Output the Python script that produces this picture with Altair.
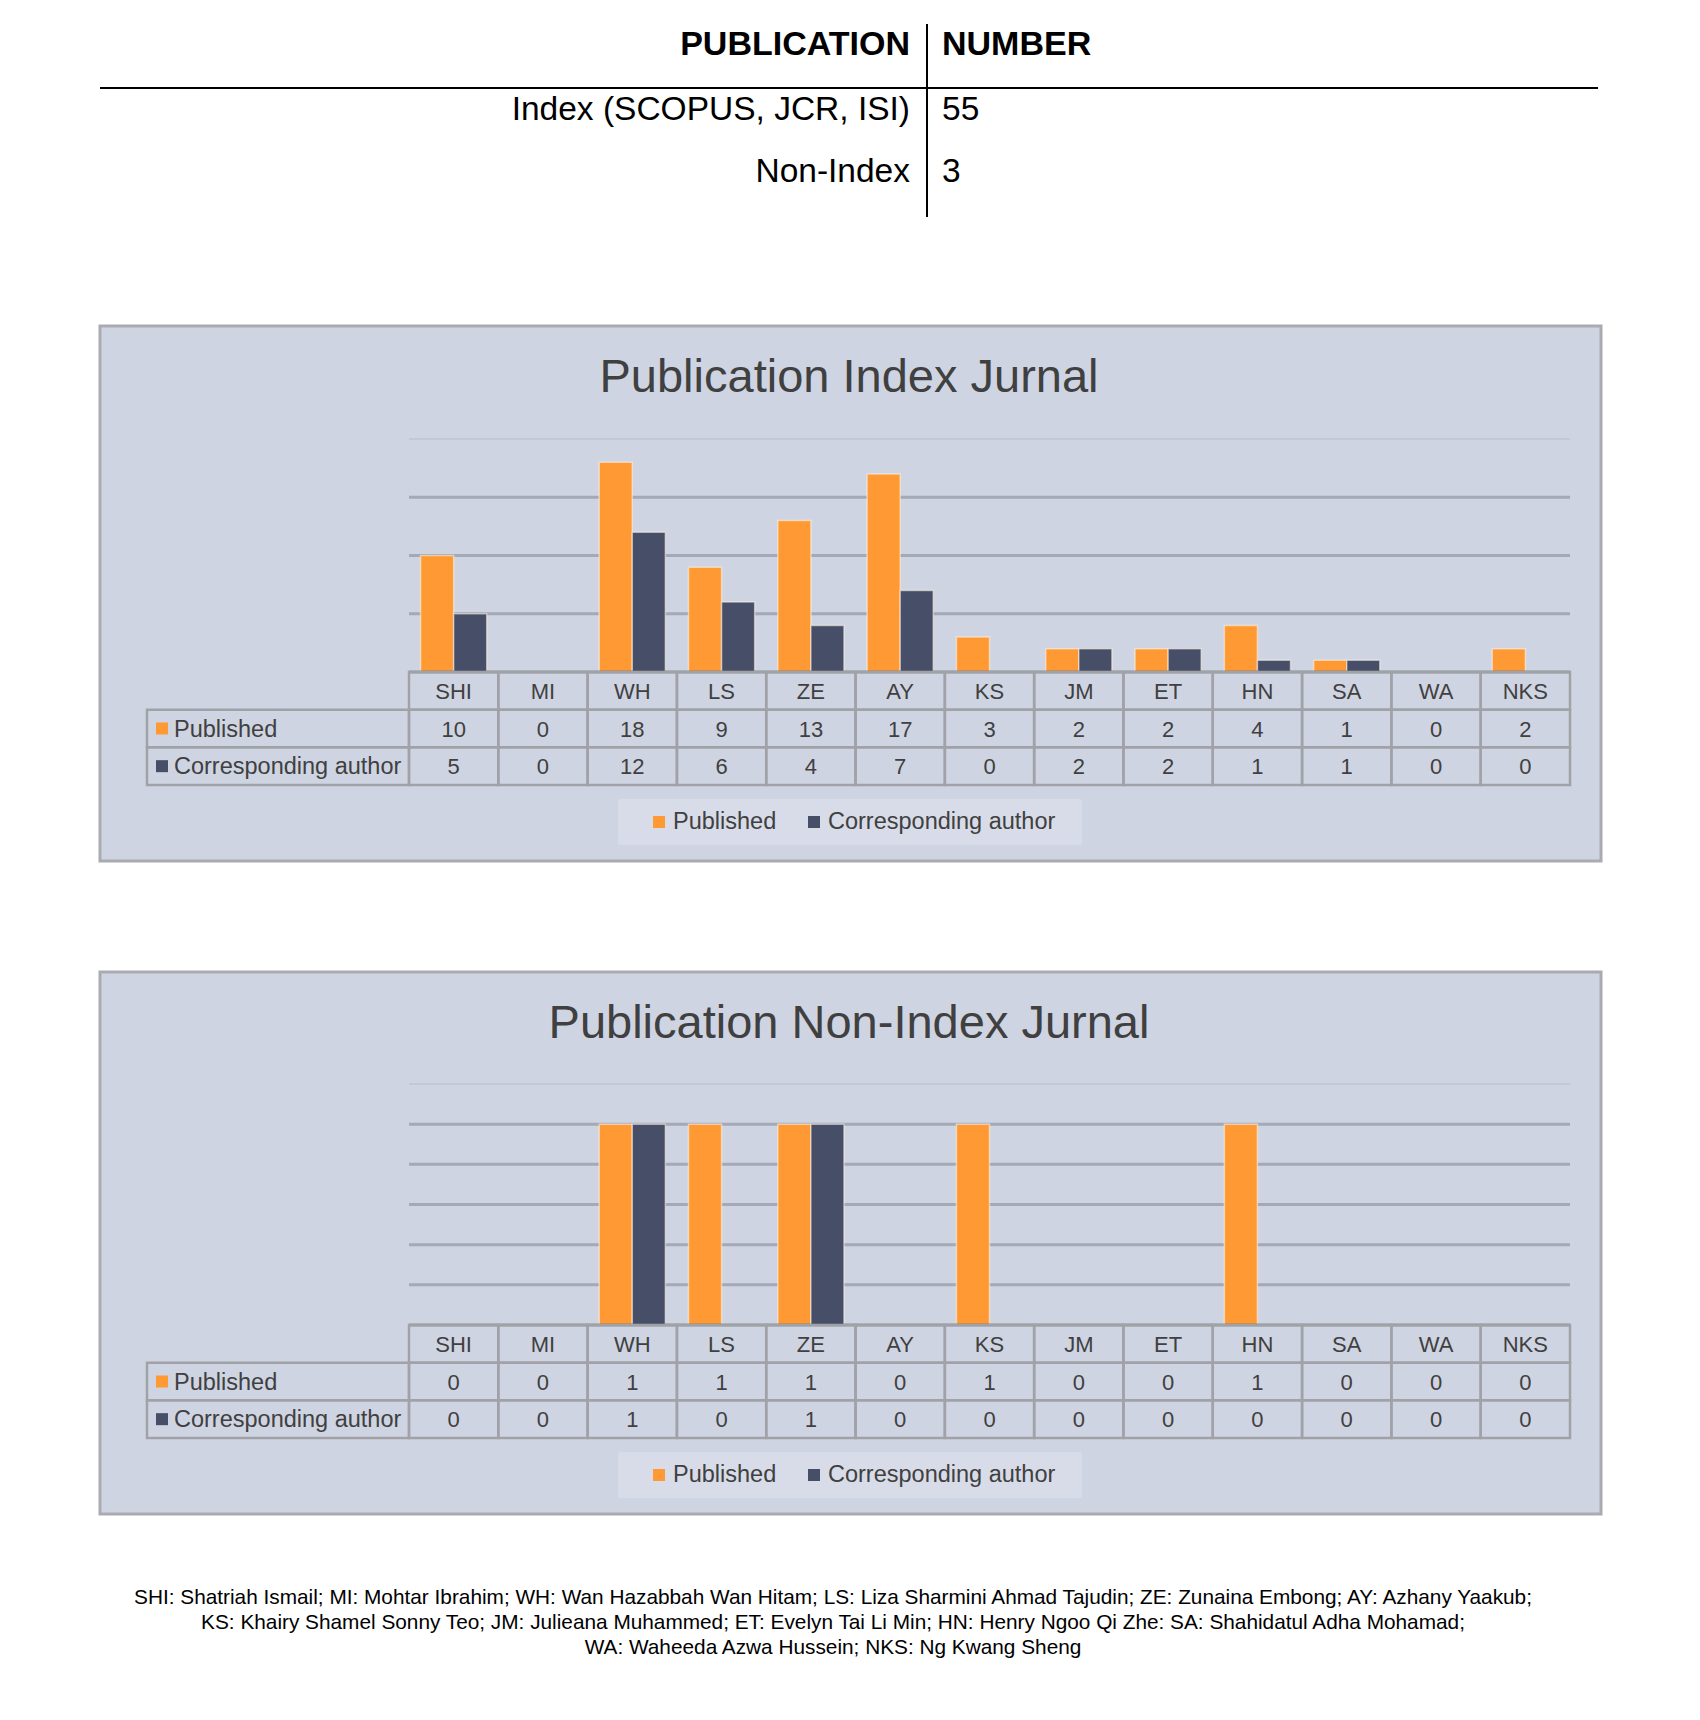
import altair as alt
import pandas as pd

# ---------------- data ----------------
authors = ["SHI", "MI", "WH", "LS", "ZE", "AY", "KS", "JM", "ET", "HN", "SA", "WA", "NKS"]
index_published = [10, 0, 18, 9, 13, 17, 3, 2, 2, 4, 1, 0, 2]
index_corresponding = [5, 0, 12, 6, 4, 7, 0, 2, 2, 1, 1, 0, 0]
nonindex_published = [0, 0, 1, 1, 1, 0, 1, 0, 0, 1, 0, 0, 0]
nonindex_corresponding = [0, 0, 1, 0, 1, 0, 0, 0, 0, 0, 0, 0, 0]
series_names = ["Published", "Corresponding author"]

summary_header = ["PUBLICATION", "NUMBER"]
summary_types = ["Index (SCOPUS, JCR, ISI)", "Non-Index"]
summary_numbers = [55, 3]

index_grid = [5, 10, 15]
index_max = 20
nonindex_grid = [0.2, 0.4, 0.6, 0.8, 1.0]
nonindex_max = 1.2

footnote_lines = [
    "SHI: Shatriah Ismail; MI: Mohtar Ibrahim; WH: Wan Hazabbah Wan Hitam; LS: Liza Sharmini Ahmad Tajudin; ZE: Zunaina Embong; AY: Azhany Yaakub;",
    "KS: Khairy Shamel Sonny Teo; JM: Julieana Muhammed; ET: Evelyn Tai Li Min; HN: Henry Ngoo Qi Zhe: SA: Shahidatul Adha Mohamad;",
    "WA: Waheeda Azwa Hussein; NKS: Ng Kwang Sheng",
]

# ---------------- styling ----------------
ORANGE = "#FF9933"
NAVY = "#474E68"
PANEL_FILL = "#CFD4E2"
PANEL_STROKE = "#A9ABB0"
LEGEND_FILL = "#D8DCE8"
GRID = "#A4A9B6"
GRID_TOP = "#C3C8D5"
AXIS = "#595959"
CELL = "#A0A2A8"
TXT = "#404040"
FONT_TABLE = "Liberation Sans"
FONT_CHART = "Liberation Sans"


def P(v):
    """page pixel -> svg pixel (page has 8px margin)"""
    return v - 8


dummy = pd.DataFrame({"k": [0]})
color_scale = alt.Scale(domain=series_names, range=[ORANGE, NAVY])


def panel(title, pub, cor, ymax, grid, g):
    xs = alt.Scale(type="band", domain=authors, range=[P(409), P(1570)],
                   paddingInner=0, paddingOuter=0)
    ys = alt.Scale(domain=[0, ymax], range=[P(g["axis"]), P(g["plot_top"])],
                   nice=False, zero=True)
    row_keys = ["hdr"] + series_names
    rs = alt.Scale(type="band", domain=row_keys, range=[P(g["rows"][0]), P(g["rows"][1])],
                   paddingInner=0, paddingOuter=0)

    layers = []
    # panel background
    layers.append(
        alt.Chart(dummy).mark_rect(fill=PANEL_FILL, stroke=PANEL_STROKE, strokeWidth=3).encode(
            x=alt.value(P(100)), x2=alt.value(P(1601)),
            y=alt.value(P(g["top"])), y2=alt.value(P(g["bottom"])))
    )
    # title
    layers.append(
        alt.Chart(dummy).mark_text(font=FONT_CHART, fontSize=47, color=TXT,
                                   align="center", baseline="middle").encode(
            x=alt.value(P(849)), y=alt.value(P(g["title_y"])), text=alt.value(title))
    )
    # gridlines
    gdf = pd.DataFrame({"g": grid})
    layers.append(
        alt.Chart(gdf).mark_rule(color=GRID, strokeWidth=3).encode(
            y=alt.Y("g:Q", scale=ys, axis=None),
            x=alt.value(P(409)), x2=alt.value(P(1570)))
    )
    tdf = pd.DataFrame({"g": [ymax]})
    layers.append(
        alt.Chart(tdf).mark_rule(color=GRID_TOP, strokeWidth=2).encode(
            y=alt.Y("g:Q", scale=ys, axis=None),
            x=alt.value(P(409)), x2=alt.value(P(1570)))
    )
    # bars
    rows = []
    for a, p, c in zip(authors, pub, cor):
        rows.append({"author": a, "series": series_names[0], "value": p})
        rows.append({"author": a, "series": series_names[1], "value": c})
    bdf = pd.DataFrame(rows)
    bdf = bdf[bdf["value"] > 0]
    layers.append(
        alt.Chart(bdf).mark_bar(stroke="#FFF4E6", strokeOpacity=0.55, strokeWidth=1.5).encode(
            x=alt.X("author:N", scale=xs, axis=None, sort=authors),
            xOffset=alt.XOffset("series:N", scale=alt.Scale(domain=series_names,
                                                             paddingOuter=0.35, paddingInner=0)),
            y=alt.Y("value:Q", scale=ys, axis=None),
            color=alt.Color("series:N", scale=color_scale, legend=None))
    )
    # axis baseline
    zdf = pd.DataFrame({"g": [0]})
    layers.append(
        alt.Chart(zdf).mark_rule(color=AXIS, strokeWidth=2.5).encode(
            y=alt.Y("g:Q", scale=ys, axis=None),
            x=alt.value(P(409)), x2=alt.value(P(1570)))
    )
    # data table cells
    trows = []
    for a, p, c in zip(authors, pub, cor):
        trows.append({"author": a, "row": "hdr", "label": a})
        trows.append({"author": a, "row": series_names[0], "label": str(p)})
        trows.append({"author": a, "row": series_names[1], "label": str(c)})
    tbl = pd.DataFrame(trows)
    layers.append(
        alt.Chart(tbl).mark_rect(fillOpacity=0, stroke=CELL, strokeWidth=2.5).encode(
            x=alt.X("author:N", scale=xs, axis=None),
            y=alt.Y("row:N", scale=rs, axis=None))
    )
    layers.append(
        alt.Chart(tbl).mark_text(font=FONT_CHART, fontSize=22, color=TXT,
                                 align="center", baseline="middle", dy=1).encode(
            x=alt.X("author:N", scale=xs, axis=None),
            y=alt.Y("row:N", scale=rs, axis=None),
            text="label:N")
    )
    # row label column
    ldf = pd.DataFrame({"row": series_names, "series": series_names})
    layers.append(
        alt.Chart(ldf).mark_rect(fillOpacity=0, stroke=CELL, strokeWidth=2.5).encode(
            x=alt.value(P(147)), x2=alt.value(P(409)),
            y=alt.Y("row:N", scale=rs, axis=None))
    )
    layers.append(
        alt.Chart(ldf).mark_square(size=144, opacity=1).encode(
            x=alt.value(P(162)),
            y=alt.Y("row:N", scale=rs, axis=None),
            color=alt.Color("series:N", scale=color_scale, legend=None))
    )
    layers.append(
        alt.Chart(ldf).mark_text(font=FONT_CHART, fontSize=23.5, color=TXT,
                                 align="left", baseline="middle", dy=1).encode(
            x=alt.value(P(174)),
            y=alt.Y("row:N", scale=rs, axis=None),
            text="row:N")
    )
    # legend
    layers.append(
        alt.Chart(dummy).mark_rect(fill=LEGEND_FILL, cornerRadius=2).encode(
            x=alt.value(P(618)), x2=alt.value(P(1082)),
            y=alt.value(P(g["leg_top"])), y2=alt.value(P(g["leg_bottom"])))
    )
    lx = alt.Scale(type="point", domain=series_names, range=[P(659), P(814)], padding=0)
    layers.append(
        alt.Chart(ldf).mark_square(size=144, opacity=1).encode(
            x=alt.X("series:N", scale=lx, axis=None),
            y=alt.value(P(g["leg_y"])),
            color=alt.Color("series:N", scale=color_scale, legend=None))
    )
    layers.append(
        alt.Chart(ldf).mark_text(font=FONT_CHART, fontSize=23.5, color=TXT,
                                 align="left", baseline="middle", dx=14).encode(
            x=alt.X("series:N", scale=lx, axis=None),
            y=alt.value(P(g["leg_y"])),
            text="series:N")
    )
    return layers


g1 = dict(top=326, bottom=861, title_y=378, plot_top=439, axis=672,
          rows=[672, 785], leg_top=799, leg_bottom=845, leg_y=822)
g2 = dict(top=972, bottom=1514, title_y=1024, plot_top=1084, axis=1325,
          rows=[1325, 1438], leg_top=1452, leg_bottom=1498, leg_y=1475)

layers = []

# ---------------- summary table ----------------
hdf = pd.DataFrame({"h": summary_header})
layers.append(
    alt.Chart(hdf.iloc[[0]]).mark_text(font=FONT_TABLE, fontSize=34, fontWeight="bold",
                                       color="black", align="right", baseline="middle").encode(
        x=alt.value(P(910)), y=alt.value(P(45)), text="h:N")
)
layers.append(
    alt.Chart(hdf.iloc[[1]]).mark_text(font=FONT_TABLE, fontSize=34, fontWeight="bold",
                                       color="black", align="left", baseline="middle").encode(
        x=alt.value(P(942)), y=alt.value(P(45)), text="h:N")
)
sdf = pd.DataFrame({"type": summary_types, "num": [str(n) for n in summary_numbers]})
sy = alt.Scale(type="point", domain=summary_types, range=[P(110), P(172)], padding=0)
layers.append(
    alt.Chart(sdf).mark_text(font=FONT_TABLE, fontSize=33.5, color="black",
                             align="right", baseline="middle").encode(
        x=alt.value(P(910)), y=alt.Y("type:N", scale=sy, axis=None), text="type:N")
)
layers.append(
    alt.Chart(sdf).mark_text(font=FONT_TABLE, fontSize=33.5, color="black",
                             align="left", baseline="middle").encode(
        x=alt.value(P(942)), y=alt.Y("type:N", scale=sy, axis=None), text="num:N")
)
layers.append(
    alt.Chart(dummy).mark_rule(color="black", strokeWidth=2).encode(
        x=alt.value(P(100)), x2=alt.value(P(1598)), y=alt.value(P(88)))
)
layers.append(
    alt.Chart(dummy).mark_rule(color="black", strokeWidth=2).encode(
        x=alt.value(P(927)), y=alt.value(P(24)), y2=alt.value(P(217)))
)

# ---------------- panels ----------------
layers += panel("Publication Index Jurnal", index_published, index_corresponding,
                index_max, index_grid, g1)
layers += panel("Publication Non-Index Jurnal", nonindex_published, nonindex_corresponding,
                nonindex_max, nonindex_grid, g2)

# ---------------- footnote ----------------
fdf = pd.DataFrame({"line": footnote_lines})
fy = alt.Scale(type="point", domain=footnote_lines, range=[P(1598), P(1648)], padding=0)
layers.append(
    alt.Chart(fdf).mark_text(font=FONT_TABLE, fontSize=20.8, color="black",
                             align="center", baseline="middle").encode(
        x=alt.value(P(833)), y=alt.Y("line:N", scale=fy, axis=None), text="line:N")
)

chart = alt.layer(*layers).properties(
    width=1684, height=1704, padding=0,
    autosize=alt.AutoSizeParams(type="none"),
    background="white",
).resolve_scale(x="independent", y="independent").configure_view(stroke=None)

chart.save("out.html", embed_options={"renderer": "svg", "actions": False})
